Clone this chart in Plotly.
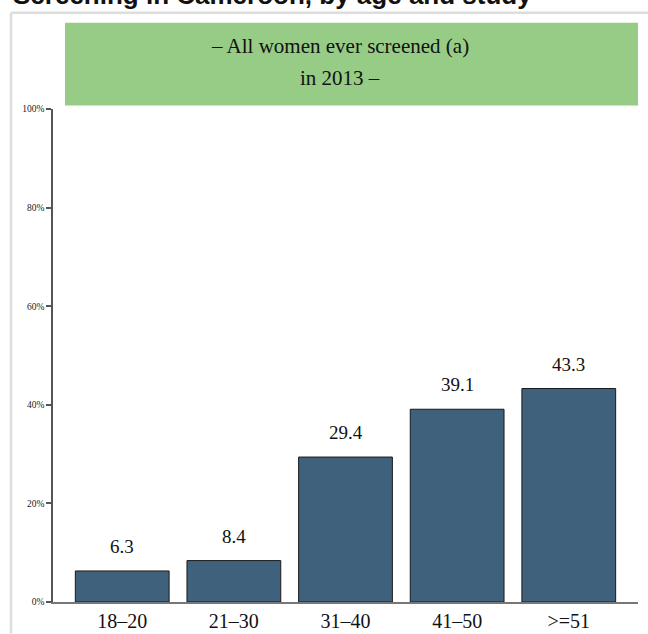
import plotly.graph_objects as go

categories = ["18–20", "21–30", "31–40", "41–50", ">=51"]
values = [6.3, 8.4, 29.4, 39.1, 43.3]
value_labels = ["6.3", "8.4", "29.4", "39.1", "43.3"]
y_ticks = [0, 20, 40, 60, 80, 100]
y_tick_labels = ["0%", "20%", "40%", "60%", "80%", "100%"]
title_text = "Screening in Cameroon, by age and study"
box_line1 = "– All women ever screened (a)"
box_line2 = "in 2013 –"

SY = 626 / 634  # observed vertical factor of the photographed page

def Y(y):
    return y / SY

W, H = 648, round(634 / SY)
ML, MR = 53, 10
MT = round(Y(108))
MB = H - round(Y(602))
PW, PH = W - ML - MR, H - MT - MB

def px(x):
    return (x - ML) / PW

def py(y):
    return (H - MB - Y(y)) / PH

SERIF = "Liberation Serif"

fig = go.Figure()
fig.add_trace(go.Bar(
    x=list(range(len(categories))),
    y=values,
    marker=dict(color="#3F617C", line=dict(color="#1a1a1a", width=1)),
    width=0.84,
    hoverinfo="skip",
))

annotations = []
for i, (v, t) in enumerate(zip(values, value_labels)):
    annotations.append(dict(x=i, y=v, xref="x", yref="y", text=t, showarrow=False,
                            yanchor="bottom", yshift=12,
                            font=dict(family=SERIF, size=19, color="#111")))

annotations.append(dict(x=px(340), y=py(44), xref="paper", yref="paper", text=box_line1,
                        showarrow=False, xanchor="center", yanchor="middle",
                        font=dict(family=SERIF, size=21, color="#111")))
annotations.append(dict(x=px(340), y=py(77), xref="paper", yref="paper", text=box_line2,
                        showarrow=False, xanchor="center", yanchor="middle",
                        font=dict(family=SERIF, size=21, color="#111")))
annotations.append(dict(x=px(11), y=py(10), xref="paper", yref="paper", text="<b>" + title_text + "</b>",
                        showarrow=False, xanchor="left", yanchor="bottom",
                        font=dict(family="Liberation Sans", size=26, color="#111")))

shapes = [
    dict(type="rect", xref="paper", yref="paper", x0=px(65), x1=px(638), y0=py(104), y1=py(21),
         fillcolor="#97CC87", line=dict(width=0), layer="below"),
    dict(type="line", xref="paper", yref="paper", x0=px(11), x1=px(648), y0=py(11), y1=py(11),
         line=dict(color="#DDDDDD", width=2.5)),
    dict(type="line", xref="paper", yref="paper", x0=px(11), x1=px(11), y0=py(11), y1=py(634),
         line=dict(color="#DDDDDD", width=2.5)),
]

fig.update_layout(
    width=W, height=H,
    margin=dict(l=ML, r=MR, t=MT, b=MB, pad=0),
    paper_bgcolor="white", plot_bgcolor="white",
    showlegend=False,
    annotations=annotations,
    shapes=shapes,
    xaxis=dict(
        range=[-0.62, 4.62], tickmode="array", tickvals=list(range(len(categories))),
        ticktext=categories, showgrid=False, zeroline=False,
        showline=True, linecolor="#777", linewidth=1.5, ticks="",
        tickfont=dict(family=SERIF, size=20, color="#111"), fixedrange=True,
    ),
    yaxis=dict(
        range=[0, 100], tickmode="array", tickvals=y_ticks, ticktext=y_tick_labels,
        showgrid=False, zeroline=False, showline=True, linecolor="#555", linewidth=1.5,
        ticks="outside", ticklen=5, tickcolor="#555", tickwidth=1.5,
        tickfont=dict(family=SERIF, size=9.5, color="#222"), fixedrange=True,
    ),
)

fig.write_html(
    "out.html",
    config={"displayModeBar": False},
    post_script="document.body.style.margin='0px';document.body.style.overflow='hidden';",
)
